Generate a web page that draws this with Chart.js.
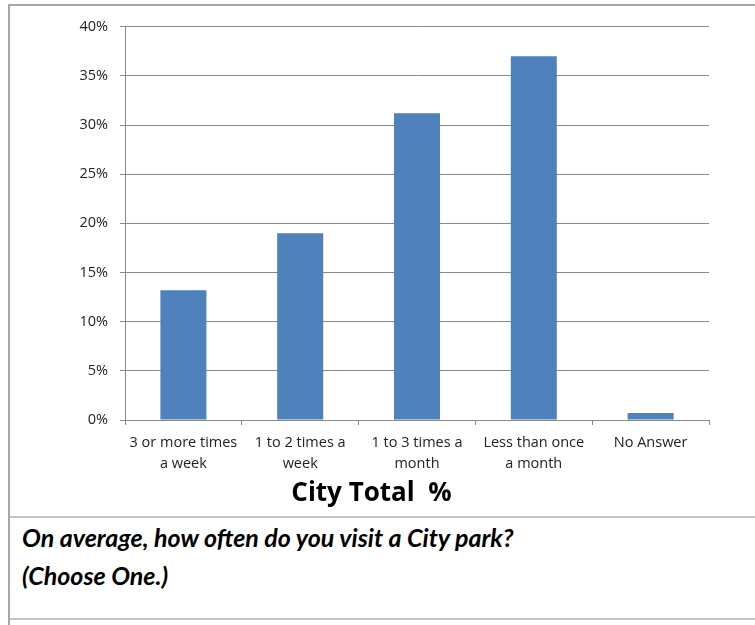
<!DOCTYPE html>
<html>
<head>
<meta charset="utf-8">
<title>City Total %</title>
<script src="https://cdn.jsdelivr.net/npm/chart.js@4/dist/chart.umd.min.js"></script>
<style>
  html, body { margin: 0; padding: 0; background: #fff; }
  body { width: 755px; height: 625px; position: relative; overflow: hidden; font-family: Lato, "Open Sans", sans-serif; }
  #frame {
    position: absolute; left: 8px; top: 4px; width: 760px; height: 640px;
    border-left: 2px solid #a6a6a6; border-top: 2px solid #a6a6a6;
  }
  #chart-box { position: absolute; left: 0; top: 0; width: 723px; height: 510px; }
  #sep1 { position: absolute; left: 0; top: 510px; width: 760px; height: 2px; background: #c4c4c4; }
  #sep2 { position: absolute; left: 0; top: 612px; width: 760px; height: 2px; background: #c4c4c4; }
  #question {
    position: absolute; left: 12px; top: 512px; margin: 0;
    font-weight: bold; font-style: italic; font-size: 25px; line-height: 38px; color: #000;
  }
</style>
</head>
<body>
<div id="frame">
  <div id="chart-box"><canvas id="visits"></canvas></div>
  <div id="sep1"></div>
  <p id="question">On average, how often do you visit a City park?<br>(Choose One.)</p>
  <div id="sep2"></div>
</div>
<script>
const categories = [
  ['3 or more times', 'a week'],
  ['1 to 2 times a', 'week'],
  ['1 to 3 times a', 'month'],
  ['Less than once', 'a month'],
  'No Answer'
];
const cityTotal = [13.2, 19.0, 31.2, 37.0, 0.7];
const yTicks = [0, 5, 10, 15, 20, 25, 30, 35, 40];

const gridGray = '#888888';
const fontFamily = '"Open Sans", Lato, sans-serif';

new Chart(document.getElementById('visits'), {
  type: 'bar',
  data: {
    labels: categories,
    datasets: [{
      label: 'City Total %',
      data: cityTotal,
      backgroundColor: '#4F81BD',
      borderWidth: 0,
      barPercentage: 0.394,
      categoryPercentage: 1
    }]
  },
  options: {
    responsive: true,
    maintainAspectRatio: false,
    animation: false,
    // equal side padding keeps the bottom title centred on the canvas
    layout: { padding: { top: 20, right: 24, left: 24, bottom: 0 } },
    plugins: {
      legend: { display: false },
      tooltip: { enabled: false },
      title: {
        display: true,
        position: 'bottom',
        text: 'City Total  %',
        color: '#000',
        font: { family: fontFamily, size: 26, weight: 'bold' },
        padding: { top: 2.4, bottom: 6.4 }
      }
    },
    scales: {
      x: {
        grid: { drawOnChartArea: false, color: gridGray, tickLength: 5, offset: true },
        border: { color: gridGray },
        ticks: {
          color: '#222',
          padding: 7,
          maxRotation: 0,
          autoSkip: false,
          font: { family: fontFamily, size: 14.5, lineHeight: 1.48 }
        },
        afterFit: s => { s.height = 56; }
      },
      y: {
        min: 0,
        max: 40,
        afterBuildTicks: s => { s.ticks = yTicks.map(v => ({ value: v })); },
        grid: { color: gridGray, tickLength: 5 },
        border: { color: gridGray },
        ticks: {
          color: '#222',
          padding: 12,
          font: { family: fontFamily, size: 14.5 },
          callback: v => v + '%'
        },
        afterFit: s => { s.width = 91; }
      }
    }
  }
});
</script>
</body>
</html>
